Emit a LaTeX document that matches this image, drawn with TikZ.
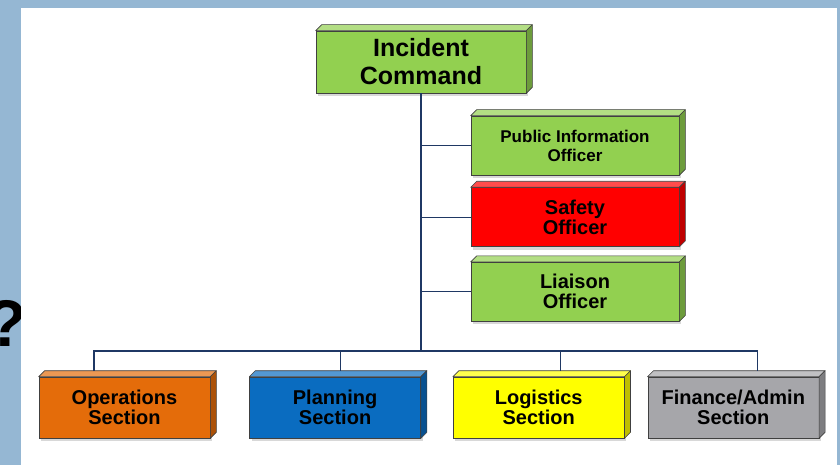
\documentclass[tikz,border=0pt]{standalone}
\usepackage{fontspec}
\setmainfont{Liberation Sans}
\usetikzlibrary{positioning, shadows}

\definecolor{slideblue}{HTML}{95B7D3}
\definecolor{boxgreen}{HTML}{92D050}
\definecolor{boxred}{HTML}{FF0000}
\definecolor{boxorange}{HTML}{E46C0A}
\definecolor{boxblue}{HTML}{0A6CC0}
\definecolor{boxyellow}{HTML}{FFFF00}
\definecolor{boxgray}{HTML}{A6A6AA}
\definecolor{edge}{HTML}{404040}
\definecolor{linkblue}{HTML}{1F3864}

\begin{document}
\begin{tikzpicture}[
x=1pt, y=-1pt,
unit/.style={rectangle, draw=edge, line width=0.6pt, align=center, inner sep=0pt,
  drop shadow={shadow xshift=2pt, shadow yshift=-3pt, opacity=0.3}},
command/.style={unit, minimum width=210pt, minimum height=62pt, font=\fontsize{25}{28}\selectfont\bfseries},
officer/.style={unit, minimum width=208pt, minimum height=59pt, font=\fontsize{20}{20}\selectfont\bfseries},
section/.style={unit, minimum width=171pt, minimum height=61pt, font=\fontsize{20}{20}\selectfont\bfseries},
link/.style={draw=linkblue, line width=1.2pt}
]
\useasboundingbox (0,0) rectangle (840,465);

% slide frame
\fill[slideblue] (0,0) rectangle (840,465);
\node[font=\fontsize{66}{66}\selectfont\bfseries, anchor=base west, inner sep=0pt] (qmark) at (-14,346) {?};
\fill[white] (21,8) rectangle (837,465);

\node[command, fill=boxgreen] (ic) at (421,62) {Incident\\Command};

\node[officer, fill=boxgreen, font=\fontsize{17}{19}\selectfont\bfseries] (pio) at (575,145.5) {Public Information\\Officer};
\node[officer, fill=boxred, below=12pt of pio] (safety) {Safety\\Officer};
\node[officer, fill=boxgreen, below=15pt of safety] (liaison) {Liaison\\Officer};

\node[section, fill=boxorange] (ops) at (124.5,407.5) {Operations\\Section};
\node[section, fill=boxblue, right=39pt of ops] (plan) {Planning\\Section};
\node[section, fill=boxyellow, right=32pt of plan] (log) {Logistics\\Section};
\node[section, fill=boxgray, right=23pt of log] (fin) {Finance/Admin\\Section};

% top and side faces
\foreach \n/\c in {ic/boxgreen, pio/boxgreen, safety/boxred, liaison/boxgreen,
                   ops/boxorange, plan/boxblue, log/boxyellow, fin/boxgray} {
  \filldraw[fill=\c!70!white, draw=edge, line width=0.6pt, line join=round]
    (\n.north west) -- ++(6pt,6pt) -- ([shift={(6pt,6pt)}]\n.north east) -- (\n.north east) -- cycle;
  \filldraw[fill=\c!75!black, draw=edge, line width=0.6pt, line join=round]
    (\n.north east) -- ++(6pt,6pt) -- ([shift={(6pt,6pt)}]\n.south east) -- (\n.south east) -- cycle;
}

\coordinate (bus) at (0,351);

\draw[link] (ic.south) -- (ic.south |- bus);
\draw[link] (ic.south |- pio.west) -- (pio.west);
\draw[link] (ic.south |- safety.west) -- (safety.west);
\draw[link] (ic.south |- liaison.west) -- (liaison.west);

\draw[link] ([shift={(-30.5pt,6pt)}]ops.north) |- ([xshift=24pt]fin.north |- bus) -- ([shift={(24pt,6pt)}]fin.north);
\draw[link] ([shift={(5pt,6pt)}]plan.north) -- ([xshift=5pt]plan.north |- bus);
\draw[link] ([shift={(21.5pt,6pt)}]log.north) -- ([xshift=21.5pt]log.north |- bus);

\end{tikzpicture}
\end{document}
